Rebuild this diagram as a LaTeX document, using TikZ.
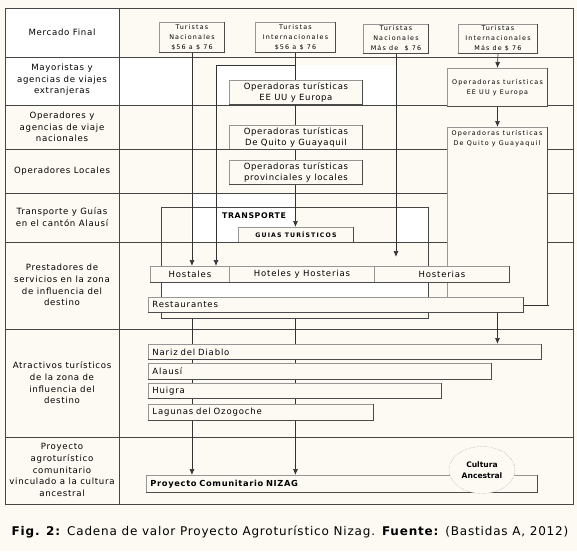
\documentclass[tikz,border=0pt]{standalone}
\usepackage{fontspec}
\setmainfont{DejaVu Sans}
\newfontfamily\lbl[LetterSpace=8]{DejaVu Sans}
\newfontfamily\srv[LetterSpace=10]{DejaVu Sans}
\newfontfamily\wide[LetterSpace=18]{DejaVu Sans}
\newfontfamily\capf[LetterSpace=6.8]{DejaVu Sans}
\usetikzlibrary{arrows.meta,shapes.geometric}
\definecolor{bg}{RGB}{253,250,243}
\definecolor{gridc}{RGB}{70,70,70}
\definecolor{bxc}{RGB}{150,150,150}
\definecolor{bxd}{RGB}{75,75,75}
\tikzset{
  gridline/.style={draw=gridc, line width=0.9pt},
  box/.style={draw=bxc, fill=bg, line width=0.9pt, inner sep=0pt, anchor=north west, align=center,
    append after command={(\tikzlastnode.north east) edge[draw=bxd, line width=0.9pt] (\tikzlastnode.south east)
      (\tikzlastnode.south east) edge[draw=bxd, line width=0.9pt] (\tikzlastnode.south west)}},
  openbox/.style={draw=gridc, line width=0.8pt, inner sep=0pt, anchor=north west},
  conn/.style={draw=black!80, line width=0.7pt},
  arr/.style={conn, -{Latex[length=6pt,width=5pt]}},
  lab/.style={align=center, inner sep=0pt, font=\lbl\fontsize{8.6}{11.6}\selectfont},
  tiny/.style={font=\wide\fontsize{6.4}{10}\selectfont},
  mid/.style={font=\lbl\fontsize{8.5}{11}\selectfont},
  serv/.style={font=\srv\fontsize{8.5}{10}\selectfont},
}
\begin{document}
\begin{tikzpicture}[x=1pt,y=-1pt]
\fill[bg] (0,0) rectangle (577,551);
\useasboundingbox (0,0) rectangle (577,551);
% white patches
\fill[white] (5,8) rectangle (119,105);
\fill[white] (119,57) rectangle (192,105);
\fill[white] (216,65) rectangle (397,105);
\fill[white] (191,193) rectangle (295,242);
\fill[white] (397,207) rectangle (428,242);
\fill[white] (161,282) rectangle (428,297);
% grid
\draw[gridline] (5,8) rectangle (573,504);
\draw[gridline] (119,8) -- (119,504);
\foreach \yy in {57,105,149,193,242,329,437} {\draw[gridline] (5,\yy) -- (573,\yy);}
% left labels
\node[lab] (l1) at (62,32) {Mercado Final};
\node[lab] (l2) at (62,80) {Mayoristas y\\agencias de viajes\\extranjeras};
\node[lab] (l3) at (62,127) {Operadores y\\agencias de viaje\\nacionales};
\node[lab] (l4) at (62,171) {Operadores Locales};
\node[lab] (l5) at (62,217) {Transporte y Guías\\en el cantón Alausí};
\node[lab] (l6) at (62,285) {Prestadores de\\servicios en la zona\\de influencia del\\destino};
\node[lab] (l7) at (62,383) {Atractivos turísticos\\de la zona de\\influencia del\\destino};
\node[lab] (l8) at (62,470) {Proyecto\\agroturístico\\comunitario\\vinculado a la cultura\\ancestral};
% top boxes
\node[box, tiny, minimum width=65, minimum height=30] (t1) at (159,22) {Turistas\\Nacionales\\\$56 a \$ 76};
\node[box, tiny, minimum width=80, minimum height=30] (t2) at (255,22) {Turistas\\Internacionales\\\$56 a \$ 76};
\node[box, tiny, minimum width=65, minimum height=29] (t3) at (363,24) {Turistas\\Nacionales\\Más de \ \$ 76};
\node[box, tiny, minimum width=79, minimum height=29] (t4) at (458,24) {Turistas\\Internacionales\\Más de \$ 76};
% transport frame
\node[openbox, minimum width=267, minimum height=111] (tr) at (161,207) {};
\node[font=\bfseries\lbl\fontsize{7.8}{9}\selectfont, inner sep=0pt] (trl) at (254,216) {TRANSPORTE};
% connectors behind boxes
\coordinate (b1) at (216,65);
\coordinate (h3) at (396,257);
\draw[conn] (t2.south) -- (t2.south |- b1) -- (b1);
\draw[arr] (t1.south) -- (t1.south |- 0,266);
\draw[arr] (b1) -- (b1 |- 0,266);
\draw[arr] (t2.south) -- (t2.south |- 0,227);
\draw[arr] (t3.south) -- (t3.south |- h3);
\draw[arr] (tr.south -| t1.south) -- (t1.south |- 0,475);
\draw[arr] (tr.south -| t2.south) -- (t2.south |- 0,475);
% middle operators
\node[box, mid, minimum width=133, minimum height=24] (m1) at (229,80) {Operadoras turísticas\\EE UU y Europa};
\node[box, mid, minimum width=133, minimum height=24] (m2) at (229,125) {Operadoras turísticas\\De Quito y Guayaquil};
\node[box, mid, minimum width=133, minimum height=24] (m3) at (229,160) {Operadoras turísticas\\provinciales y locales};
% right operators
\node[box, tiny, minimum width=100, minimum height=38] (ree) at (447,68) {Operadoras turísticas\\EE UU y Europa};
\node[box, minimum width=100, minimum height=178] (rq) at (447,127) {};
\node[tiny, align=center, inner sep=0pt] (rqt) at (497,139) {Operadoras turísticas\\De Quito y Guayaquil};
\draw[arr] (t4.south) -- (ree.north);
\draw[arr] (ree.south) -- (rq.north);
% guias
\node[box, minimum width=115, minimum height=15, font=\bfseries\wide\fontsize{6.2}{8}\selectfont] (gu) at (238,227) {GUIAS TURÍSTICOS};
% services
\node[box, serv, minimum width=79, minimum height=16] (hos) at (150,266) {Hostales};
\node[box, serv, minimum width=145, minimum height=16] (hot) at (229,266) {Hoteles y Hosterias};
\node[box, serv, minimum width=135, minimum height=16] (hst) at (374,266) {Hosterias};
\node[box, serv, minimum width=375, minimum height=15, text width=367, align=left] (rest) at (148,297) {Restaurantes};
\draw[conn] (rq.south east) -- (rest.east -| rq.south east) -- (rest.east);
% attractions
\node[box, serv, minimum width=393, minimum height=15, text width=385, align=left] (na) at (148,344) {Nariz del Diablo};
\node[box, serv, minimum width=343, minimum height=16, text width=335, align=left] (al) at (148,363) {Alausí};
\node[box, serv, minimum width=293, minimum height=15, text width=285, align=left] (hu) at (148,383) {Huigra};
\node[box, serv, minimum width=225, minimum height=16, text width=217, align=left] (lg) at (148,404) {Lagunas del Ozogoche};
\draw[arr] (ree.south |- rest.south) -- (ree.south |- na.north);
% project
\node[box, minimum width=391, minimum height=17, text width=383, align=left, font=\bfseries\lbl\fontsize{8.3}{9}\selectfont] (pr) at (146,475) {Proyecto Comunitario NIZAG};
\node[ellipse, draw=black!45, densely dotted, fill=bg, minimum width=66, minimum height=47, inner sep=0pt, align=center, font=\bfseries\fontsize{7.6}{11}\selectfont] (ca) at (482,470) {Cultura\\Ancestral};
% caption
\node[font=\capf\fontsize{12}{14}\selectfont, inner sep=0pt] (cap) at (290,532) {\textbf{Fig. 2:} Cadena de valor Proyecto Agroturístico Nizag. \textbf{Fuente:} (Bastidas A, 2012)};
\end{tikzpicture}
\end{document}
